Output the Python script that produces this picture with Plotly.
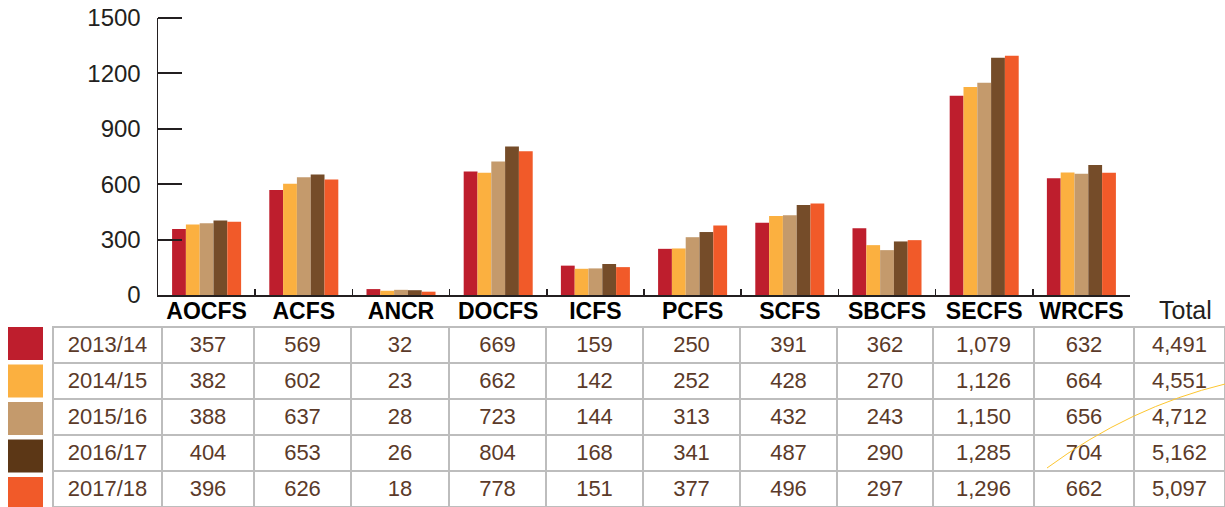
import plotly.graph_objects as go

# service areas and reporting years
categories = ["AOCFS", "ACFS", "ANCR", "DOCFS", "ICFS",
              "PCFS", "SCFS", "SBCFS", "SECFS", "WRCFS"]
years = ["2013/14", "2014/15", "2015/16", "2016/17", "2017/18"]

v_2013_14 = [357, 569, 32, 669, 159, 250, 391, 362, 1079, 632]
v_2014_15 = [382, 602, 23, 662, 142, 252, 428, 270, 1126, 664]
v_2015_16 = [388, 637, 28, 723, 144, 313, 432, 243, 1150, 656]
v_2016_17 = [404, 653, 26, 804, 168, 341, 487, 290, 1285, 704]
v_2017_18 = [396, 626, 18, 778, 151, 377, 496, 297, 1296, 662]
totals = [4491, 4551, 4712, 5162, 5097]

y_ticks = [0, 300, 600, 900, 1200, 1500]

series = [v_2013_14, v_2014_15, v_2015_16, v_2016_17, v_2017_18]
bar_colors = ["#BE1E2D", "#FBB040", "#C49A6C", "#754C29", "#F15A29"]
key_colors = ["#BE1E2D", "#FBB040", "#C49A6C", "#5C3716", "#F15A29"]

W, H = 1225, 507
TEXT = "#5B3A29"
ROW_H = 36
TABLE_TOP = 327
AX_X0, AX_X1 = 158, 1130
PX_BOTTOM, PX_TOP = 295, 18
Y_MAX = 1500

fig = go.Figure()
for name, vals, col in zip(years, series, bar_colors):
    fig.add_trace(go.Bar(x=categories, y=vals, name=name,
                         marker=dict(color=col, line=dict(width=0))))

# table rows: first year goes in the header slot so all rows look alike
rows = []
for name, vals, tot in zip(years, series, totals):
    rows.append([name] + [f"{v:,}" for v in vals] + [f"{tot:,}"])
columns = [list(c) for c in zip(*rows[1:])]

col_widths = [109, 92, 97, 98, 97, 97, 97, 97, 96, 101, 100, 91]
fig.add_trace(go.Table(
    domain=dict(x=[53 / W, 1], y=[0, (H - TABLE_TOP) / H]),
    columnwidth=col_widths,
    header=dict(values=rows[0], height=ROW_H, align="center",
                fill_color="white", line=dict(color="#BDBDBD", width=1.5),
                font=dict(family="Liberation Sans", size=22, color=TEXT)),
    cells=dict(values=columns, height=ROW_H, align="center",
               fill_color="white", line=dict(color="#BDBDBD", width=1.5),
               font=dict(family="Liberation Sans", size=22, color=TEXT)),
))

shapes = []
# y tick marks pointing into the plot, snapped to whole pixels
for v in y_ticks[1:]:
    py = round(PX_BOTTOM - v / Y_MAX * (PX_BOTTOM - PX_TOP))
    yp = 1 - py / H
    shapes.append(dict(type="line", xref="paper", yref="paper",
                       x0=AX_X0 / W, x1=(AX_X0 + 24) / W, y0=yp, y1=yp,
                       line=dict(color="#231F20", width=2), layer="above"))

# colour key squares beside the table
for i, col in enumerate(key_colors):
    top = TABLE_TOP + i * 37.5
    shapes.append(dict(type="rect", xref="paper", yref="paper",
                       x0=8 / W, x1=43 / W,
                       y0=1 - (top + 33) / H, y1=1 - top / H,
                       fillcolor=col, line=dict(width=0), layer="above"))

# thin decorative arc at bottom right
def px(x, y):
    return f"{x / W:.4f},{1 - y / H:.4f}"

shapes.append(dict(type="path", xref="paper", yref="paper",
                   path=f"M {px(1047, 468)} Q {px(1130, 407)} {px(1225, 384)}",
                   line=dict(color="#FDC630", width=1), layer="above"))

fig.update_layout(
    width=W, height=H,
    margin=dict(l=0, r=0, t=0, b=0, autoexpand=False),
    paper_bgcolor="white", plot_bgcolor="white",
    barmode="group", bargap=0.29, bargroupgap=0,
    showlegend=False,
    shapes=shapes,
    xaxis=dict(domain=[AX_X0 / W, AX_X1 / W], showgrid=False,
               automargin=False,
               showline=True, linecolor="#231F20", linewidth=2,
               ticks="inside", tickson="boundaries", ticklen=6,
               tickwidth=1.5, tickcolor="#231F20",
               tickfont=dict(family="Liberation Sans", size=23,
                             color="black", weight="bold"),
               ticklabelstandoff=-6),
    yaxis=dict(domain=[1 - PX_BOTTOM / H, 1 - PX_TOP / H], range=[0, Y_MAX],
               tickvals=y_ticks, showgrid=False, zeroline=False,
               automargin=False,
               showline=True, linecolor="#231F20", linewidth=1.5,
               ticks="", ticklabelstandoff=11,
               tickfont=dict(family="Liberation Sans", size=24,
                             color="#231F20")),
    annotations=[dict(text="Total", xref="paper", yref="paper",
                      x=1185 / W, y=1 - 310 / H, showarrow=False,
                      xanchor="center", yanchor="middle",
                      font=dict(family="Liberation Sans", size=25,
                                color="#231F20"))],
)

fig.write_html("out.html", config={"staticPlot": True},
               post_script="document.body.style.margin='0';"
                           "document.body.style.overflow='hidden';")
